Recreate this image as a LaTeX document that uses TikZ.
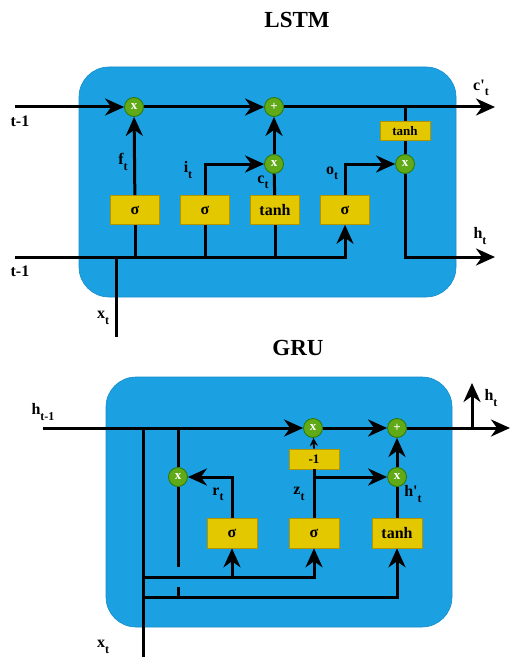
\documentclass[tikz,border=0pt]{standalone}
\usepackage{fontspec}
\setmainfont{Liberation Serif}
\usetikzlibrary{arrows.meta}
\definecolor{cellblue}{HTML}{1BA1E2}
\definecolor{cellbluedark}{HTML}{168CC8}
\definecolor{opgreen}{HTML}{60A917}
\definecolor{opgreendark}{HTML}{2D7600}
\definecolor{gateyellow}{HTML}{E3C800}
\definecolor{gateyellowdark}{HTML}{B09500}
\newcommand\lsub[1]{\raisebox{-0.33em}{\fontsize{12}{12}\selectfont #1}}
\begin{document}
\begin{tikzpicture}[x=1pt,y=-1pt,
  wire/.style={line width=3pt},
  arr/.style={wire,-{Stealth[length=19pt,width=17pt,inset=6pt]}},
  sarr/.style={line width=1.8pt,-{Stealth[length=8pt,width=8pt,inset=2.5pt]}},
  op/.style={circle,fill=opgreen,draw=opgreendark,line width=0.8pt,minimum size=19pt,inner sep=0pt,text=white,font=\bfseries\fontsize{13}{13}\selectfont},
  gate/.style={rectangle,fill=gateyellow,draw=gateyellowdark,line width=0.6pt,minimum width=49pt,minimum height=29pt,inner sep=0pt,font=\bfseries\fontsize{16}{16}\selectfont},
  sgate/.style={gate,minimum width=50pt,minimum height=19pt,font=\bfseries\fontsize{13}{13}\selectfont},
  lbl/.style={font=\bfseries\fontsize{16}{16}\selectfont,inner sep=0pt},
  ttl/.style={font=\bfseries\fontsize{23}{23}\selectfont,inner sep=0pt},
  cell/.style={fill=cellblue,draw=cellbluedark,line width=0.6pt,rounded corners=30pt,inner sep=0pt}]
\useasboundingbox (0,0) rectangle (522,666);

% ================= LSTM =================
\node[ttl] (lstmtitle) at (297,20) {LSTM};
\node[cell,minimum width=377pt,minimum height=230pt] (lstmcell) at (267.5,182) {};

\coordinate (cin) at (15,107);
\coordinate (cout) at (495,107);
\coordinate (hin) at (15,257);
\coordinate (hout) at (495,257);
\coordinate (xtl) at (116,337);
\coordinate (tap) at (405,107);

\node[op] (m1) at (134,107) {x};
\node[op] (a1) at (274,107) {+};
\node[op] (m2) at (274,164) {x};
\node[op] (m3) at (405,164) {x};
\node[sgate] (th) at (405,131) {tanh};

\node[gate] (s1) at (135,210) {σ};
\node[gate] (s2) at (205,210) {σ};
\node[gate] (tb) at (275,210) {tanh};
\node[gate] (s4) at (345,210) {σ};

\draw[arr] (cin) -- (m1);
\draw[arr] (m1) -- (a1);
\draw[arr] (a1) -- (cout);
\draw[arr] (s1) -- (m1);
\draw[arr] (s2.north) |- (m2);
\draw[wire] (tb) -- (m2);
\draw[arr] (m2) -- (a1);
\draw[arr] (s4.north) |- (m3);
\draw[wire] (tap) -- (th) -- (m3);
\draw[arr] (m3) |- (hout);
\draw[arr] (hin) -| (s4.south);
\draw[wire] (s1.south) -- (s1.south |- hin);
\draw[wire] (s2.south) -- (s2.south |- hin);
\draw[wire] (tb.south) -- (tb.south |- hin);
\draw[wire] (xtl) -- (xtl |- hin);

\node[lbl] (l1) at (20,121) {t-1};
\node[lbl] (l2) at (20,271) {t-1};
\node[lbl] (lf) at (123,162) {f\lsub{t}};
\node[lbl] (li) at (188,170) {i\lsub{t}};
\node[lbl] (lc) at (263,182) {c\lsub{t}};
\node[lbl] (lo) at (332,173) {o\lsub{t}};
\node[lbl] (lcp) at (481,88) {c\textquotesingle\lsub{t}};
\node[lbl] (lh) at (480,236) {h\lsub{t}};
\node[lbl] (lx) at (103,318) {x\lsub{t}};

% ================= GRU =================
\node[ttl] (grutitle) at (298,348) {GRU};
\node[cell,minimum width=346pt,minimum height=250pt] (grucell) at (279,502) {};

\coordinate (gin) at (43,428);
\coordinate (gout) at (510,428);
\coordinate (gtap) at (472,428);
\coordinate (gup) at (472,383);
\coordinate (xg) at (143,657);
\coordinate (xgtop) at (143,428);
\coordinate (rtop) at (178,428);
\coordinate (rgap1) at (178,567);
\coordinate (rgap2) at (178,587);
\coordinate (l577) at (143,577);
\coordinate (l597) at (143,597);
\coordinate (rlow) at (178,597);
\coordinate (zb) at (314,477);

\node[op] (gm) at (313,428) {x};
\node[op] (ga) at (397,428) {+};
\node[op] (rm) at (178,477) {x};
\node[op] (hm) at (397,477) {x};
\node[gate,minimum width=50pt,minimum height=30pt] (sr) at (232,533) {σ};
\node[gate,minimum width=50pt,minimum height=30pt] (sz) at (314,533) {σ};
\node[gate,minimum width=50pt,minimum height=30pt] (stb) at (397,533) {tanh};
\node[sgate,minimum height=20pt] (neg) at (314,459) {-1};

\draw[arr] (gin) -- (gm);
\draw[arr] (gm) -- (ga);
\draw[arr] (ga) -- (gout);
\draw[arr] (gtap) -- (gup);
\draw[wire] (xg) -- (xgtop);
\draw[wire] (rtop) -- (rm);
\draw[wire] (rm) -- (rgap1);
\draw[wire] (rgap2) -- (rlow);
\draw[arr] (l577) -| (sz.south);
\draw[arr] (sr.south |- l577) -- (sr.south);
\draw[arr] (l597) -| (stb.south);
\draw[arr] (sr.north) |- (rm);
\draw[wire] (sz.north) -- (neg.south);
\draw[arr] (zb) -- (hm);
\draw[sarr] (neg.north) -- (gm);
\draw[wire] (stb) -- (hm);
\draw[arr] (hm) -- (ga);

\node[lbl] (lhin) at (43,412) {h\lsub{t-1}};
\node[lbl] (lhg) at (491,398) {h\lsub{t}};
\node[lbl] (lr) at (218,494) {r\lsub{t}};
\node[lbl] (lz) at (299,494) {z\lsub{t}};
\node[lbl] (lhp) at (413,494) {h\textquotesingle\lsub{t}};
\node[lbl] (lxg) at (103,647) {x\lsub{t}};
\end{tikzpicture}
\end{document}
